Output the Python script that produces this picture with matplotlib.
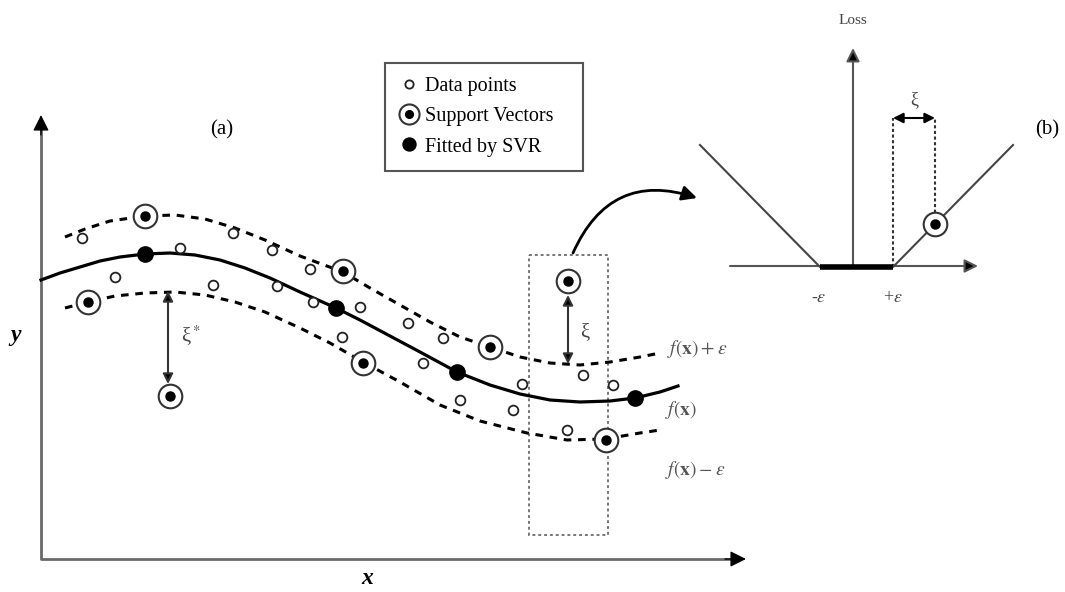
import matplotlib.pyplot as plt
from matplotlib.patches import Rectangle
from matplotlib.legend_handler import HandlerTuple

plt.rcParams['font.family'] = ['Liberation Serif', 'DejaVu Serif']
plt.rcParams['mathtext.fontset'] = 'stix'

# everything below is in picture pixels (x right, y down)
# fitted regression curve f(x)
fit_x = [41, 60, 80, 100, 120, 145, 170, 195, 220, 245, 270, 300, 336, 360, 390,
         420, 457, 490, 520, 550, 580, 610, 635, 660, 678]
fit_y = [280, 273, 267, 261, 257, 254, 253, 255, 260, 268, 278, 292, 308, 320, 336,
         352, 372, 385, 394, 400, 402, 401, 398, 392, 386]

# upper tube f(x) + eps
up_x = [65, 85, 110, 145, 175, 205, 235, 265, 300, 343, 370, 400, 430, 460, 490,
        520, 550, 580, 610, 640, 660]
up_y = [237, 229, 221, 216, 215, 219, 228, 240, 256, 272, 288, 305, 322, 337, 347,
        357, 363, 365, 362, 357, 353]

# lower tube f(x) - eps
lo_x = [65, 88, 115, 145, 175, 205, 235, 265, 300, 330, 363, 400, 440, 480, 527,
        567, 605, 640, 660]
lo_y = [308, 302, 296, 293, 292, 295, 302, 312, 328, 343, 362, 382, 405, 421, 433,
        440, 439, 433, 430]

data_x = [82, 115, 180, 213, 233, 272, 277, 310, 313, 342, 360, 408, 423, 443,
          460, 513, 522, 567, 583, 613]
data_y = [238, 277, 248, 285, 233, 250, 286, 269, 302, 337, 307, 323, 363, 338,
          400, 410, 384, 430, 375, 385]

sv_x = [145, 88, 343, 363, 490, 568, 606, 170]
sv_y = [216, 302, 271, 363, 347, 281, 440, 396]

fitted_x = [145, 336, 457, 635]
fitted_y = [254, 308, 372, 398]

legend_labels = ['Data points', 'Support Vectors', 'Fitted by SVR']

# panel (b): epsilon-insensitive loss
loss_x = [700, 820, 893, 1013]
loss_y = [145, 267, 267, 145]
loss_sv = (935, 224)

fig = plt.figure(figsize=(10.65, 5.92), dpi=100)
ax = fig.add_axes([0, 0, 1, 1])
ax.set_xlim(0, 1065)
ax.set_ylim(592, 0)
ax.axis('off')

axis_c = '#6a6a6a'


def arrow(p0, p1, style='-|>', lw=2.0, ms=22, ec='black'):
    ax.annotate('', xy=p1, xytext=p0,
                arrowprops=dict(arrowstyle=style, lw=lw, ec=ec, fc='black',
                                mutation_scale=ms, shrinkA=0, shrinkB=0))


# panel (a) axes: gray shafts with black heads
ax.plot([41, 41, 735], [125, 559, 559], color=axis_c, lw=2)
arrow((41, 135), (41, 115), lw=1, ms=24)
arrow((725, 559), (746, 559), lw=1, ms=24)

ax.plot(fit_x, fit_y, color='black', lw=2.3, zorder=3)
ax.plot(up_x, up_y, color='black', lw=2.2, ls=(0, (2.5, 2.2)), zorder=3)
ax.plot(lo_x, lo_y, color='black', lw=2.2, ls=(0, (2.5, 2.2)), zorder=3)

h_data, = ax.plot(data_x, data_y, 'o', ms=7, mfc='white', mec='#222', mew=1.3,
                  ls='none', zorder=4)
h_sv_out, = ax.plot(sv_x, sv_y, 'o', ms=17, mfc='white', mec='#333', mew=1.5,
                    ls='none', zorder=5)
h_sv_in, = ax.plot(sv_x, sv_y, 'o', ms=6.5, mfc='black', mec='black',
                   ls='none', zorder=6)
h_fit, = ax.plot(fitted_x, fitted_y, 'o', ms=11, mfc='black', mec='black',
                 ls='none', zorder=6)

# slack arrows
arrow((168, 291), (168, 384), style='<|-|>', lw=1.5, ms=15, ec='#333')
ax.text(181, 336, r'ξ$^*$', fontsize=15, color='#444', va='center')
arrow((568, 295), (568, 364), style='<|-|>', lw=1.5, ms=15, ec='#333')
ax.text(580, 333, 'ξ', fontsize=15, color='#444', va='center')

# zoom box and link arrow to panel (b)
ax.add_patch(Rectangle((529, 255), 79, 280, fill=False, ec='#777', lw=1.4,
                       ls=(0, (1.5, 1.5))))
ax.annotate('', xy=(697, 198), xytext=(573, 253),
            arrowprops=dict(arrowstyle='-|>', lw=2, color='black',
                            mutation_scale=22, shrinkA=0, shrinkB=0,
                            connectionstyle='arc3,rad=-0.45'))

ax.text(222, 130, '(a)', fontsize=15, ha='center', va='center')
ax.text(16, 335, 'y', fontsize=17, fontweight='bold', style='italic',
        ha='center', va='center')
ax.text(367, 578, 'x', fontsize=17, fontweight='bold', style='italic',
        ha='center', va='center')

ax.text(667, 349, r'$f(\mathbf{x})+\varepsilon$', fontsize=14, color='#555',
        va='center')
ax.text(665, 410, r'$f(\mathbf{x})$', fontsize=14, color='#555', va='center')
ax.text(665, 470, r'$f(\mathbf{x})-\varepsilon$', fontsize=14, color='#555',
        va='center')

leg = ax.legend([h_data, (h_sv_out, h_sv_in), h_fit], legend_labels,
                handler_map={tuple: HandlerTuple(ndivide=1)},
                loc='upper left',
                bbox_to_anchor=(385 / 1065, 1 - 173 / 592, 198 / 1065, 110 / 592),
                mode='expand', borderaxespad=0, fancybox=False, framealpha=1,
                fontsize=14.5, labelspacing=0.55, borderpad=0.7,
                handlelength=1.0, handletextpad=0.3, markerscale=0.85)
leg.get_frame().set_edgecolor('#555')
leg.get_frame().set_linewidth(1.5)

# panel (b)
arrow((730, 266), (978, 266), lw=1.5, ms=20, ec='#555')
arrow((853, 266), (853, 48), lw=1.5, ms=20, ec='#555')
ax.plot(loss_x, loss_y, color='#444', lw=1.5, zorder=3)
ax.plot(loss_x[1:3], loss_y[1:3], color='black', lw=4, zorder=4,
        solid_capstyle='butt')
ax.plot([loss_x[2], loss_x[2]], [loss_y[2], 118], color='#333', lw=1.5,
        ls=(0, (1.5, 1.2)))
ax.plot([loss_sv[0], loss_sv[0]], [loss_sv[1], 118], color='#333', lw=1.5,
        ls=(0, (1.5, 1.2)))
ax.plot(*loss_sv, 'o', ms=17, mfc='white', mec='#333', mew=1.5, zorder=5)
ax.plot(*loss_sv, 'o', ms=6.5, mfc='black', mec='black', zorder=6)
arrow((893, 118), (935, 118), style='<|-|>', lw=1.5, ms=15, ec='black')
ax.text(914, 100, 'ξ', fontsize=13, color='#444', ha='center', va='center')

ax.text(853, 20, 'Loss', fontsize=11, color='#444', ha='center', va='center')
ax.text(1047, 130, '(b)', fontsize=15, ha='center', va='center')
ax.text(819, 297, r'-$\varepsilon$', fontsize=13, color='#444', ha='center',
        va='center')
ax.text(893, 297, r'+$\varepsilon$', fontsize=13, color='#444', ha='center',
        va='center')

fig.savefig('out.png', dpi=100)
